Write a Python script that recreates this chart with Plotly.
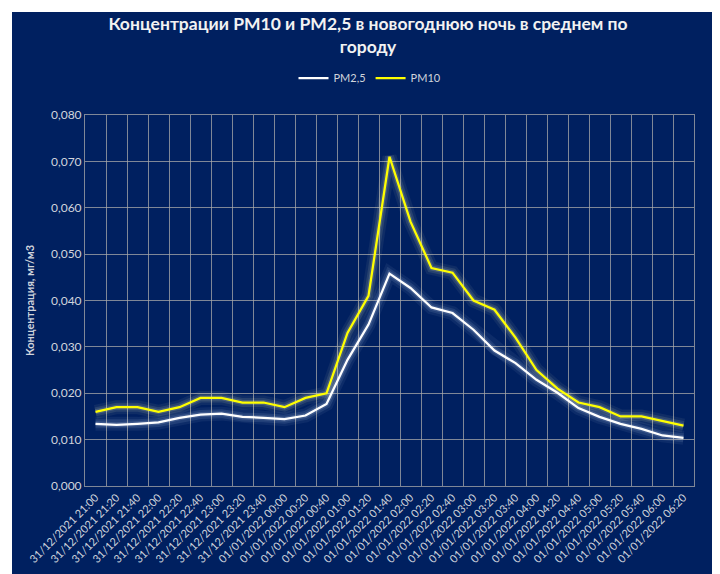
import plotly.graph_objects as go

categories = [
    "31/12/2021 21:00", "31/12/2021 21:20", "31/12/2021 21:40", "31/12/2021 22:00",
    "31/12/2021 22:20", "31/12/2021 22:40", "31/12/2021 23:00", "31/12/2021 23:20",
    "31/12/2021 23:40", "01/01/2022 00:00", "01/01/2022 00:20", "01/01/2022 00:40",
    "01/01/2022 01:00", "01/01/2022 01:20", "01/01/2022 01:40", "01/01/2022 02:00",
    "01/01/2022 02:20", "01/01/2022 02:40", "01/01/2022 03:00", "01/01/2022 03:20",
    "01/01/2022 03:40", "01/01/2022 04:00", "01/01/2022 04:20", "01/01/2022 04:40",
    "01/01/2022 05:00", "01/01/2022 05:20", "01/01/2022 05:40", "01/01/2022 06:00",
    "01/01/2022 06:20",
]

pm25 = [0.0134, 0.0132, 0.0134, 0.0137, 0.0147, 0.0154, 0.0156, 0.0149, 0.0147, 0.0144,
        0.0152, 0.0177, 0.0272, 0.0348, 0.0458, 0.0427, 0.0385, 0.0373, 0.0337, 0.0292,
        0.0265, 0.0229, 0.0201, 0.0168, 0.0149, 0.0134, 0.0123, 0.0109, 0.0104]

pm10 = [0.016, 0.017, 0.017, 0.016, 0.017, 0.019, 0.019, 0.018, 0.018, 0.017,
        0.019, 0.020, 0.033, 0.041, 0.071, 0.057, 0.047, 0.046, 0.040, 0.038,
        0.032, 0.025, 0.021, 0.018, 0.017, 0.015, 0.015, 0.014, 0.013]

NAVY = "#002060"
GRID = "rgba(170,170,170,0.75)"
TXT = "#d0d4dc"

fig = go.Figure()

# glow layers
for series, glow in [(pm25, "rgba(220,235,255,{a})"), (pm10, "rgba(255,255,200,{a})")]:
    for w, a in [(14, 0.06), (9, 0.10), (5, 0.15)]:
        fig.add_trace(go.Scatter(x=categories, y=series, mode="lines",
                                 line=dict(color=glow.format(a=a), width=w),
                                 showlegend=False, hoverinfo="skip"))

fig.add_trace(go.Scatter(x=categories, y=pm25, mode="lines", name="PM2,5",
                         line=dict(color="#ffffff", width=2.25)))
fig.add_trace(go.Scatter(x=categories, y=pm10, mode="lines", name="PM10",
                         line=dict(color="#ffff00", width=2.25)))

# navy chart area box (chart sits on a white sheet)
fig.add_shape(type="rect", xref="paper", yref="paper",
              x0=(4 - 77) / 609, x1=(714 - 77) / 609,
              y0=(478 - 570) / 371, y1=(478 - 4) / 371,
              fillcolor=NAVY, line=dict(width=0), layer="below")

fig.update_layout(
    width=720, height=574,
    margin=dict(l=77, r=34, t=107, b=96),
    paper_bgcolor="#ffffff",
    plot_bgcolor=NAVY,
    separators=", ",
    font=dict(family="Lato, 'Open Sans', sans-serif", color=TXT, size=11),
    title=dict(text="<b>Концентрации PM10 и PM2,5 в новогоднюю ночь в среднем по<br>городу</b>",
               x=0.5, xanchor="center", y=1 - 22 / 574, yanchor="middle", yref="container",
               font=dict(size=17.5, color="#f2f2f2", family="Lato, 'Open Sans', sans-serif")),
    legend=dict(orientation="h", x=(362 - 77) / 609, xanchor="center", y=(478 - 70) / 371,
                yanchor="middle", font=dict(size=11, color=TXT), bgcolor="rgba(0,0,0,0)",
                itemwidth=30, traceorder="normal"),
    showlegend=True,
)

fig.update_xaxes(
    type="category", range=[-0.5, len(categories) - 0.5],
    tickson="boundaries", showgrid=True, gridcolor=GRID, gridwidth=1,
    showline=True, linecolor=GRID, mirror=True,
    ticks="", tickangle=-45, tickfont=dict(size=11, color=TXT),
    zeroline=False,
)
fig.update_yaxes(
    range=[0, 0.080], dtick=0.010, tickformat=".3f",
    showgrid=True, gridcolor=GRID, gridwidth=1,
    showline=True, linecolor=GRID, mirror=True, zeroline=False,
    ticks="", tickfont=dict(size=12, color=TXT),
    title=dict(text="<b>Концентрация, мг/м3</b>", font=dict(size=11, color=TXT), standoff=14),
)

fig.write_html("out.html")
